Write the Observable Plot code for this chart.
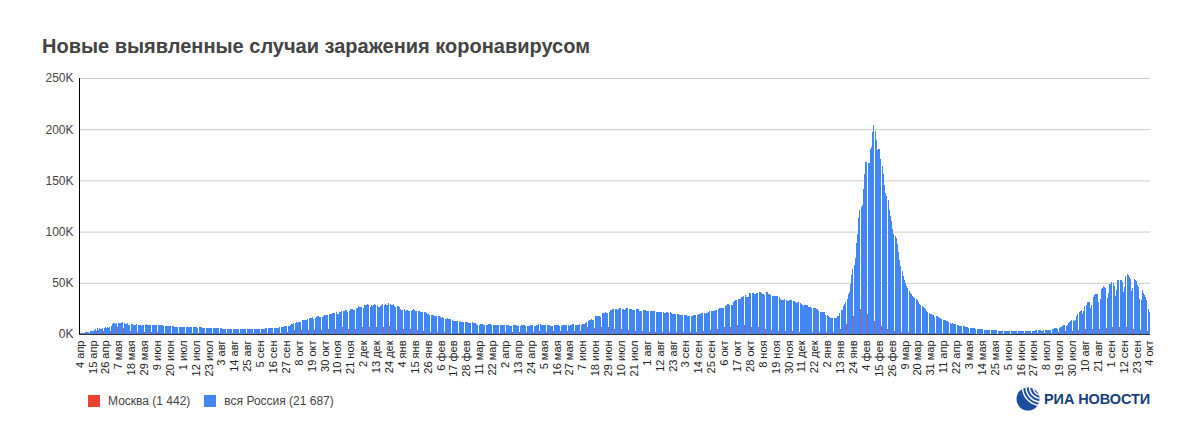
<!DOCTYPE html>
<html><head><meta charset="utf-8">
<script src="https://cdn.jsdelivr.net/npm/d3@7"></script>
<script src="https://cdn.jsdelivr.net/npm/@observablehq/plot@0.6"></script>
<style>
body{margin:0;background:#fff;font-family:"Liberation Sans",Arial,sans-serif;}
#wrap{position:relative;width:1198px;height:441px;overflow:hidden;}
#title{position:absolute;left:42px;top:35px;font-size:20px;font-weight:bold;color:#444;white-space:nowrap;}
#chart{position:absolute;left:0;top:60px;}
#legend{position:absolute;left:88px;top:394px;font-size:12px;color:#444;display:flex;align-items:center;}
#legend .sw{width:12px;height:12px;display:inline-block;margin-right:8px;}
#legend .it{display:flex;align-items:center;margin-right:14px;}
#logo{position:absolute;left:1016px;top:387px;display:flex;align-items:center;}
#logo span{font-weight:bold;font-size:14.5px;color:#173e7c;margin-left:4px;letter-spacing:-0.1px;}
</style></head>
<body><div id="wrap">
<div id="title">Новые выявленные случаи заражения коронавирусом</div>
<div id="chart"></div>
<div id="legend"></div>
<div id="logo"></div>
</div>
<script>
// Daily new cases, thousands. Russia
const ru2020 = [
 0.6,0.7,1.0,1.2,1.2,1.5,1.8,
 1.7,2.2,2.6,2.8,3.4,3.4,4.1,4.8,6.1,4.3,
 5.6,5.2,4.8,5.8,6.0,6.4,6.2,6.4,5.8,7.1,
 7.9,9.6,10.6,10.6,10.1,10.6,11.2,10.7,10.8,11.0,
 11.7,10.9,10.0,10.0,10.6,9.2,8.9,9.3,9.7,8.8,
 8.8,8.9,9.4,8.6,8.9,8.9,8.3,8.4,8.6,9.0,9.3,
 9.0,8.9,8.5,8.8,8.7,8.9,9.0,9.0,8.6,8.4,
 8.8,9.0,8.7,8.8,8.2,8.2,7.8,7.8,8.0,7.9,
 7.7,7.6,7.4,7.2,7.1,6.8,6.9,6.8,6.7,6.7,
 6.6,6.8,6.7,6.7,6.6,6.6,6.4,6.6,6.5,6.6,
 6.6,6.6,6.5,6.2,6.4,6.4,6.4,6.2,6.1,5.9,
 5.8,5.9,5.8,5.8,5.9,5.8,5.6,5.5,5.4,5.5,5.5,
 5.5,5.4,5.4,5.2,5.2,5.2,5.2,5.2,5.2,5.1,
 4.9,4.9,5.1,5.1,5.1,4.9,4.9,4.8,4.8,4.8,
 4.9,4.9,4.9,4.8,4.7,4.7,4.7,4.7,4.9,4.9,4.7,
 4.7,4.7,4.8,5.0,5.2,5.2,5.2,5.1,5.1,5.4,
 5.4,5.5,5.4,5.5,5.5,5.7,5.9,6.1,6.1,6.2,
 6.2,6.4,6.4,6.6,7.2,7.5,7.9,8.1,8.1,8.2,
 8.9,9.4,9.9,10.9,10.9,11.6,11.1,11.5,12.1,12.1,
 13.6,13.9,13.9,13.6,13.8,14.2,15.2,15.7,15.8,16.3,
 15.0,15.7,16.5,17.1,17.3,16.6,16.2,16.6,17.7,18.3,18.1,
 18.7,18.6,19.8,19.4,19.8,20.6,20.5,20.4,21.8,20.0,
 19.9,21.6,21.9,22.8,22.6,22.8,23.0,23.6,21.6,22.7,
 24.6,24.6,24.3,23.2,23.7,25.2,25.5,27.5,26.3,26.7,
 26.4,25.3,28.1,28.1,28.8,29.0,28.1,26.1,27.9,26.9,
 28.6,29.0,28.6,28.1,26.7,26.4,27.0,28.2,28.9,28.2,
 28.9,28.1,28.5,29.9,29.3,28.6,28.3,29.0,27.3,26.5,27.7
];
const ru2021 = [
 27.0,26.3,24.1,23.4,23.7,24.2,22.5,23.0,23.3,22.9,
 22.3,22.2,23.2,24.0,23.3,22.7,22.7,22.3,22.0,21.0,
 21.4,21.4,21.1,21.0,20.6,20.0,19.2,18.8,18.7,18.7,18.3,
 17.6,17.6,17.6,17.3,17.1,16.7,16.1,16.4,15.2,14.9,
 15.0,15.4,15.1,14.9,14.2,13.4,13.1,13.0,12.8,12.8,
 12.6,12.0,12.7,11.7,11.4,11.7,11.4,11.5,
 11.5,11.0,11.1,11.2,11.4,11.0,10.5,10.6,9.3,9.1,
 9.1,9.4,9.9,9.4,9.1,8.8,9.0,9.1,9.3,9.4,
 9.3,9.0,8.4,8.4,8.8,9.1,9.1,8.9,8.5,8.7,8.6,
 8.6,8.7,8.7,8.8,8.6,8.3,8.3,8.3,8.7,8.8,
 8.7,8.7,8.3,8.2,8.3,8.7,9.0,8.7,8.6,8.3,
 8.1,8.1,8.3,8.8,8.8,8.7,8.3,8.3,8.8,9.2,
 9.3,9.3,9.1,8.8,8.9,8.6,8.4,8.5,8.7,8.5,
 8.3,8.2,8.3,8.5,8.8,8.8,8.6,8.4,8.0,8.2,
 8.6,8.9,9.0,8.6,8.4,8.4,8.3,8.9,9.1,9.3,9.3,
 9.2,9.1,8.9,8.9,9.3,9.1,9.3,9.3,9.6,10.4,
 11.7,12.5,13.5,13.7,14.2,13.4,14.1,17.3,17.9,17.6,
 17.4,17.6,16.7,20.2,20.2,20.5,21.7,20.5,20.6,21.0,
 23.5,23.2,24.4,24.4,24.4,24.2,23.8,24.0,25.8,25.1,
 24.7,24.4,23.9,24.4,25.3,25.1,24.5,24.9,24.0,23.8,
 23.7,23.8,24.2,24.1,24.0,22.8,22.4,22.4,23.2,23.3,23.6,
 22.4,22.6,22.6,22.6,22.6,22.8,22.3,22.0,21.4,21.6,
 21.9,21.9,21.2,21.9,21.6,20.8,20.6,21.0,21.0,20.9,
 21.0,20.6,20.0,19.6,19.5,19.6,19.3,19.1,18.9,18.4,18.3,
 18.8,18.9,18.8,18.7,17.9,17.8,17.6,17.9,18.0,18.9,
 18.6,18.9,18.7,19.1,19.6,19.9,20.2,20.4,20.3,20.0,
 20.3,20.9,21.4,22.0,22.5,22.0,22.2,22.4,23.0,23.8,
 24.5,25.0,25.8,25.1,25.1,25.2,27.2,28.0,29.4,29.4,
 28.2,28.2,28.7,31.3,32.2,33.2,33.2,33.7,33.7,34.1,
 35.7,36.3,37.1,37.9,35.7,36.4,36.6,40.1,40.0,40.3,40.0,
 39.4,39.2,40.4,40.2,40.7,41.3,40.0,39.2,39.2,38.1,
 40.8,40.8,39.3,38.8,38.4,37.2,37.2,37.3,37.2,37.1,
 37.1,35.7,33.9,33.6,33.6,33.3,33.9,32.9,32.6,32.1,
 33.0,32.9,32.9,32.6,32.1,30.8,30.4,31.0,31.1,29.9,
 29.3,28.5,27.4,27.9,28.5,28.4,26.8,26.7,26.4,25.5,
 25.5,25.1,25.0,24.7,24.1,22.9,21.9,21.2,21.2,21.2,21.1
];
const ru2022 = [
 19.0,18.6,17.5,16.4,15.9,15.8,15.4,15.2,15.4,15.8,
 17.5,17.5,20.1,23.8,23.8,27.2,29.6,31.3,33.9,38.9,
 41.0,49.0,57.2,63.2,67.8,74.7,88.8,98.0,113.1,121.2,124.1,
 125.8,141.9,155.8,168.2,168.2,166.6,167.3,180.5,183.1,197.1,
 203.9,197.8,189.1,180.1,180.5,180.3,170.9,163.9,155.8,145.8,
 137.5,135.2,131.3,121.2,115.3,110.3,103.0,98.0,
 96.0,94.0,88.0,80.0,72.0,66.0,62.0,57.0,53.0,50.0,
 47.0,45.0,42.0,40.0,39.0,37.0,36.0,35.0,34.0,33.0,
 31.0,29.0,28.0,27.0,26.5,25.0,24.0,22.0,21.0,20.5,20.0,
 19.5,18.8,18.2,16.8,17.4,17.2,16.4,15.7,15.3,14.6,
 13.3,13.9,13.4,12.9,12.3,11.6,11.1,10.1,10.5,10.0,
 9.8,9.5,9.1,8.6,8.1,8.2,8.3,8.0,7.8,7.2,
 6.8,6.6,6.2,6.1,6.2,6.0,5.8,5.6,5.3,5.0,
 5.2,5.1,4.9,4.7,4.5,4.3,4.3,4.2,4.0,4.0,
 3.9,3.7,3.6,3.6,3.6,3.5,3.5,3.4,3.3,3.3,3.3,
 3.3,3.2,3.2,3.2,3.1,3.1,3.1,3.1,3.0,3.0,
 3.0,3.0,3.0,3.0,3.0,3.1,3.0,3.0,3.0,3.0,
 3.1,3.1,3.1,3.2,3.2,3.2,3.3,3.4,3.5,3.6,
 3.6,3.7,3.6,3.3,3.4,3.8,3.9,4.0,4.2,4.3,
 3.9,4.1,4.6,5.0,5.4,5.6,5.8,5.2,5.6,6.5,
 7.2,7.8,8.4,8.6,8.0,8.6,10.6,11.9,12.4,13.4,14.1,
 12.6,13.6,17.8,19.5,21.6,22.5,23.5,19.5,22.1,27.5,
 28.8,30.8,31.0,31.5,25.4,28.3,35.8,37.6,39.2,38.7,
 39.2,30.8,34.2,43.6,45.2,46.6,46.0,45.1,35.4,39.6,49.2,
 49.1,50.6,49.6,47.0,37.4,43.0,52.6,52.7,53.1,52.8,
 51.2,40.6,45.7,56.9,58.5,57.5,55.7,54.0,42.2,44.8,
 53.6,52.8,51.3,48.3,45.7,34.1,33.6,42.8,40.5,38.5,
 36.0,33.2,24.6,21.687
];
// Moscow, thousands
const msk2020 = [
 0.4,0.4,0.5,0.7,0.8,1.0,1.1,
 1.0,1.4,1.4,1.6,1.5,1.8,1.8,2.6,3.6,2.5,
 3.3,2.6,1.9,2.6,2.8,2.6,2.9,3.0,2.2,3.0,
 4.1,5.4,6.0,5.9,5.7,6.7,5.9,5.8,5.4,5.7,
 6.2,5.4,4.7,4.7,4.4,3.5,3.2,3.3,3.5,2.7,
 2.5,2.1,2.3,2.5,2.6,2.1,2.1,2.1,2.1,2.2,2.6,
 2.6,2.2,1.8,2.3,2.1,1.6,2.0,2.0,1.6,1.2,
 1.5,1.9,1.6,1.7,1.1,1.4,1.0,1.1,1.0,1.1,
 1.0,1.1,1.0,1.0,1.0,0.9,0.8,0.8,0.7,0.7,
 0.6,0.7,0.6,0.7,0.6,0.7,0.6,0.6,0.6,0.7,
 0.6,0.6,0.7,0.6,0.6,0.7,0.6,0.6,0.6,0.6,
 0.6,0.6,0.6,0.6,0.7,0.7,0.6,0.6,0.6,0.7,0.7,
 0.7,0.7,0.7,0.7,0.7,0.7,0.7,0.7,0.7,0.7,
 0.7,0.7,0.7,0.7,0.7,0.7,0.7,0.6,0.7,0.6,
 0.6,0.7,0.6,0.6,0.6,0.6,0.6,0.6,0.6,0.6,0.6,
 0.6,0.6,0.6,0.7,0.7,0.7,0.6,0.6,0.7,0.7,
 0.7,0.8,0.8,0.8,0.7,0.9,1.1,1.1,1.1,1.1,
 1.1,1.1,1.1,1.2,1.6,1.8,1.8,2.2,2.2,2.3,
 2.4,2.6,2.9,3.5,3.2,3.2,3.1,3.6,3.7,4.1,
 4.7,4.6,3.8,3.9,4.2,4.2,4.1,4.4,4.5,4.3,
 4.2,4.2,5.1,5.3,5.0,4.5,4.0,4.5,5.3,5.5,5.0,
 5.3,5.3,5.3,4.7,5.5,6.0,6.3,5.0,6.0,4.8,
 4.2,5.5,5.9,6.4,5.9,5.8,5.5,5.1,5.1,6.4,
 6.9,6.4,6.4,5.1,5.1,6.0,6.6,7.9,7.0,6.9,
 6.8,5.7,7.2,7.6,7.9,8.0,7.0,5.1,5.2,5.1,
 6.1,6.5,6.4,5.9,4.7,4.6,5.0,6.2,6.8,6.9,
 7.3,6.2,6.0,8.2,7.5,6.3,5.8,5.0,4.5,4.2,5.0
];
const msk2021 = [
 5.5,4.9,4.8,4.8,4.5,4.3,4.3,4.3,4.3,4.6,
 4.5,3.9,4.5,4.2,4.2,4.3,4.3,3.6,3.2,3.1,
 2.8,2.6,2.5,2.3,2.2,2.0,2.0,2.0,1.9,1.9,1.9,
 1.9,1.8,1.8,1.7,1.6,1.6,1.6,1.6,1.6,1.5,
 1.5,1.5,1.5,1.4,1.4,1.4,1.4,1.3,1.4,1.4,
 1.3,1.3,1.3,1.3,1.3,1.2,1.2,1.2,
 1.2,1.2,1.2,1.2,1.2,1.2,1.2,1.2,1.2,1.1,
 1.1,1.1,1.1,1.1,1.1,1.1,1.1,1.2,1.2,1.3,
 1.4,1.2,1.2,1.3,1.4,1.3,1.5,1.4,1.3,1.4,1.5,
 1.6,1.6,1.7,1.6,1.5,1.4,1.6,1.7,1.7,1.7,
 1.6,1.5,1.4,1.5,1.6,1.7,1.8,1.5,1.5,1.5,
 1.6,1.7,1.8,2.0,2.0,1.8,1.8,1.9,2.3,2.4,
 2.6,2.6,2.6,2.2,2.2,2.3,2.3,2.6,2.7,2.7,
 2.5,2.3,2.5,2.7,3.0,3.0,2.8,2.6,2.6,2.8,
 3.0,3.1,2.9,2.8,2.8,2.8,2.8,3.3,3.4,3.5,3.4,
 3.2,3.1,3.0,3.0,3.4,3.4,3.5,3.8,4.3,5.0,
 6.7,6.6,6.7,6.8,6.6,5.8,5.8,9.1,9.1,8.6,
 8.4,7.9,7.2,7.9,7.9,7.6,7.7,6.7,6.4,6.3,
 6.4,5.9,5.6,5.3,5.3,5.4,5.6,5.0,5.0,4.5,
 4.3,4.0,3.9,3.8,4.0,3.9,3.5,3.4,3.3,3.2,
 3.2,3.0,3.1,3.1,2.9,2.8,2.6,2.5,2.6,2.7,2.8,
 2.5,2.3,2.4,2.5,2.4,2.4,2.4,2.3,2.0,2.0,
 2.1,2.1,2.1,2.2,2.2,1.8,1.8,1.9,1.9,2.0,
 2.0,2.0,1.6,1.7,1.8,1.9,1.9,1.8,1.7,1.6,1.6,
 1.7,1.8,1.8,1.9,1.7,1.6,1.6,1.7,1.8,2.0,
 2.0,2.1,2.0,2.1,2.3,2.5,2.8,3.0,3.1,3.0,
 3.1,3.5,3.7,4.0,4.3,4.2,3.8,4.0,4.4,4.6,
 4.7,5.1,5.3,5.5,5.9,6.6,7.4,7.8,7.6,7.1,
 6.5,6.9,7.3,8.7,9.0,9.1,9.0,7.3,8.2,8.4,
 8.6,8.9,8.6,7.9,7.1,6.9,6.7,7.9,7.1,7.2,6.9,
 6.6,6.5,6.8,6.4,6.2,5.6,5.2,5.1,5.1,4.8,
 4.9,4.4,4.1,4.0,3.9,3.8,3.9,3.8,3.6,3.5,
 3.4,3.2,3.3,3.2,3.1,3.1,3.0,2.9,2.9,2.9,
 3.0,2.9,2.9,2.8,2.7,2.6,2.5,2.5,2.4,2.3,
 2.4,2.5,2.6,2.4,2.2,2.1,2.0,2.0,1.9,1.7,
 1.7,1.8,1.7,1.7,1.6,1.7,1.6,1.5,1.6,1.7,1.8
];
const msk2022 = [
 1.9,2.0,1.9,1.8,1.6,1.6,1.5,1.5,1.7,2.1,
 2.8,3.2,4.4,6.0,6.7,7.4,8.0,9.4,11.0,13.6,
 15.6,16.4,17.2,18.0,19.2,21.1,24.0,24.8,25.0,24.4,23.4,
 23.3,23.1,22.5,21.7,20.0,18.6,17.4,16.1,14.4,13.5,
 12.4,11.0,10.0,9.2,8.5,8.0,7.5,7.0,6.3,5.8,
 5.5,5.0,4.7,4.4,4.0,3.7,3.4,3.1,
 3.0,2.8,2.6,2.5,2.3,2.1,2.0,2.0,1.9,1.8,
 1.7,1.6,1.6,1.6,1.5,1.5,1.5,1.4,1.4,1.4,
 1.4,1.3,1.3,1.2,1.2,1.2,1.2,1.1,1.1,1.1,1.0,
 1.0,1.0,1.0,0.9,0.9,0.9,0.9,0.8,0.8,0.8,
 0.8,0.8,0.8,0.7,0.7,0.7,0.7,0.7,0.6,0.6,
 0.6,0.6,0.6,0.6,0.6,0.6,0.5,0.5,0.5,0.5,
 0.5,0.5,0.5,0.5,0.5,0.5,0.5,0.5,0.4,0.4,
 0.4,0.5,0.5,0.5,0.4,0.4,0.4,0.4,0.4,0.4,
 0.4,0.4,0.4,0.4,0.4,0.4,0.4,0.4,0.4,0.4,0.4,
 0.4,0.4,0.4,0.4,0.4,0.4,0.4,0.4,0.4,0.4,
 0.4,0.4,0.5,0.5,0.5,0.5,0.5,0.5,0.6,0.6,
 0.6,0.6,0.7,0.7,0.7,0.8,0.8,0.8,0.8,0.9,
 0.9,0.9,0.9,0.9,1.0,1.0,1.1,1.1,1.2,1.2,
 1.2,1.3,1.5,1.6,1.6,1.8,1.9,1.9,2.1,2.2,
 2.4,2.5,2.7,2.7,2.5,2.9,3.0,3.2,3.4,3.4,3.4,
 3.2,3.4,3.9,4.0,4.5,4.5,4.4,3.8,4.2,4.8,
 5.0,5.2,5.1,4.9,4.0,4.5,5.4,5.6,5.7,5.6,
 5.5,4.4,4.9,6.0,6.2,6.3,6.1,5.9,4.6,5.2,6.4,
 6.4,6.6,6.4,6.0,4.8,5.4,6.7,6.8,6.8,6.7,
 6.4,5.0,5.6,7.0,7.2,7.0,6.7,6.3,4.9,5.2,
 6.3,6.1,5.9,5.4,5.0,3.7,3.8,4.7,4.4,4.1,
 3.7,3.3,2.2,1.442
];
const tickLabels = ["4 апр","15 апр","26 апр","7 мая","18 мая","29 мая","9 июн","20 июн","1 июл","12 июл","23 июл","3 авг","14 авг","25 авг","5 сен","16 сен","27 сен","8 окт","19 окт","30 окт","10 ноя","21 ноя","2 дек","13 дек","24 дек","4 янв","15 янв","26 янв","6 фев","17 фев","28 фев","11 мар","22 мар","2 апр","13 апр","24 апр","5 мая","16 мая","27 мая","7 июн","18 июн","29 июн","10 июл","21 июл","1 авг","12 авг","23 авг","3 сен","14 сен","25 сен","6 окт","17 окт","28 окт","8 ноя","19 ноя","30 ноя","11 дек","22 дек","2 янв","13 янв","24 янв","4 фев","15 фев","26 фев","9 мар","20 мар","31 мар","11 апр","22 апр","3 мая","14 мая","25 мая","5 июн","16 июн","27 июн","8 июл","19 июл","30 июл","10 авг","21 авг","1 сен","12 сен","23 сен","4 окт"];
const tickStepDays = 11;
const yTicks = [0, 50000, 100000, 150000, 200000, 250000];
const seriesNames = ["Москва (1 442)", "вся Россия (21 687)"];
const seriesColors = ["#ea4335", "#4285f4"];

const DAY = 864e5;
const start = Date.UTC(2020, 3, 4);
const russia = [...ru2020, ...ru2021, ...ru2022];
const moscow = [...msk2020, ...msk2021, ...msk2022];
const n = russia.length;
const data = russia.map((v, i) => ({
  date: new Date(start + i * DAY),
  ru: v * 1000,
  msk: (moscow[i] ?? 0) * 1000
}));
const tickDates = tickLabels.map((_, i) => new Date(start + i * tickStepDays * DAY));
const labelMap = new Map(tickDates.map((d, i) => [+d, tickLabels[i]]));
const x0 = new Date(start - DAY / 2), x1 = new Date(start + (n - 0.5) * DAY);
const left = d => new Date(+d.date - DAY / 2);
const right = d => new Date(+d.date + DAY / 2);

const chart = Plot.plot({
  width: 1198,
  height: 330,
  marginLeft: 79,
  marginRight: 48,
  marginTop: 18,
  marginBottom: 56,
  style: {fontFamily: '"Liberation Sans", Arial, sans-serif', background: "#fff"},
  x: {type: "utc", domain: [x0, x1], label: null},
  y: {domain: [0, 250000], label: null},
  marks: [
    Plot.gridY(yTicks, {stroke: "#cccccc", strokeOpacity: 1}),
    Plot.rectY(data, {x1: left, x2: right, y: "msk", fill: "#b45a7c", shapeRendering: "crispEdges"}),
    Plot.rectY(data, {x1: left, x2: right, y: "ru", fill: seriesColors[1], insetRight: 0.17, shapeRendering: "crispEdges"}),
    Plot.ruleY([0], {stroke: "#333"}),
    Plot.ruleX([x0], {y1: 0, y2: 250000, stroke: "#000"}),
    Plot.axisY(yTicks, {tickSize: 0, tickPadding: 6, fontSize: 12, color: "#444", tickFormat: d => (d / 1000) + "K"}),
    Plot.axisX(tickDates, {tickSize: 0, tickPadding: 6, tickRotate: -90, fontSize: 11, color: "#222", tickFormat: d => labelMap.get(+d)})
  ]
});
document.getElementById("chart").appendChild(chart);

const legend = document.getElementById("legend");
seriesNames.forEach((name, i) => {
  const it = document.createElement("div");
  it.className = "it";
  it.innerHTML = `<span class="sw" style="background:${seriesColors[i]}"></span><span>${name}</span>`;
  legend.appendChild(it);
});

document.getElementById("logo").innerHTML = `
<svg width="24" height="24" viewBox="0 0 24 24">
 <defs><clipPath id="lc"><circle cx="12" cy="12" r="11.5"/></clipPath></defs>
 <circle cx="12" cy="12" r="11.5" fill="#1b4c9e"/>
 <g clip-path="url(#lc)" fill="none" stroke="#fff" stroke-width="1.5">
  <circle cx="25" cy="0" r="8"/><circle cx="25" cy="0" r="11.5"/><circle cx="25" cy="0" r="15"/><circle cx="25" cy="0" r="18.5"/>
 </g>
</svg><span>РИА НОВОСТИ</span>`;
</script>
</body></html>
